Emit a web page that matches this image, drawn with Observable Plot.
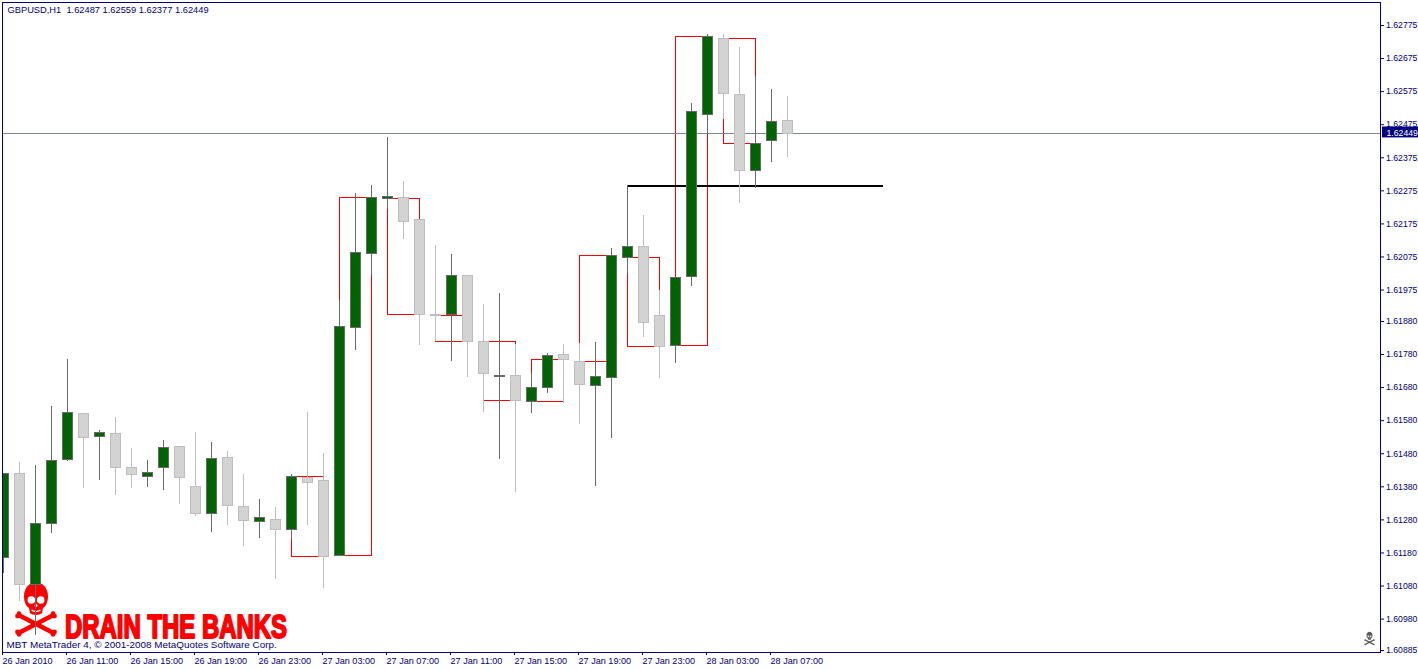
<!DOCTYPE html>
<html>
<head>
<meta charset="utf-8">
<script src="https://cdn.jsdelivr.net/npm/d3@7"></script>
<script src="https://cdn.jsdelivr.net/npm/@observablehq/plot@0.6"></script>
<style>html,body{margin:0;padding:0;background:#fff;overflow:hidden}svg{display:block}</style>
</head>
<body>
<div id="chart"></div>
<script>
const opens = [1.61165,1.61421,1.61085,1.61270,1.61463,1.61602,1.61532,1.61542,1.61439,1.61412,
1.61439,1.61503,1.61382,1.61300,1.61469,1.61321,1.61276,1.61282,1.61252,1.61409,
1.61400,1.61173,1.61862,1.62086,1.62252,1.62255,1.62189,1.61902,1.61902,1.62020,
1.61820,1.61714,1.61717,1.61639,1.61681,1.61781,1.61760,1.61687,1.61711,1.62074,
1.62107,1.61899,1.61808,1.62017,1.62507,1.62736,1.62567,1.62337,1.62428,1.62487];
const highs = [1.61421,1.61454,1.61443,1.61624,1.61764,1.61602,1.61549,1.61590,1.61497,1.61461,
1.61519,1.61503,1.61543,1.61513,1.61487,1.61416,1.61343,1.61316,1.61416,1.61606,
1.61482,1.61942,1.62268,1.62290,1.62435,1.62302,1.62189,1.62111,1.62084,1.62020,
1.61930,1.61966,1.61809,1.61724,1.61782,1.61809,1.61813,1.61815,1.62101,1.62291,
1.62199,1.61975,1.62014,1.62540,1.62748,1.62749,1.62709,1.62620,1.62580,1.62559];
const lows = [1.61119,1.61033,1.60930,1.61238,1.61456,1.61374,1.61399,1.61353,1.61374,1.61377,
1.61368,1.61326,1.61290,1.61241,1.61262,1.61199,1.61223,1.61099,1.61222,1.61262,
1.61073,1.61173,1.61793,1.62018,1.62219,1.62127,1.61807,1.61820,1.61758,1.61710,
1.61604,1.61464,1.61362,1.61601,1.61662,1.61631,1.61568,1.61380,1.61526,1.62021,
1.61831,1.61707,1.61752,1.61985,1.62449,1.62492,1.62236,1.62282,1.62360,1.62377];
const closes = [1.61421,1.61085,1.61270,1.61460,1.61605,1.61530,1.61545,1.61439,1.61418,1.61424,
1.61500,1.61409,1.61300,1.61466,1.61324,1.61279,1.61288,1.61252,1.61412,1.61394,
1.61170,1.61865,1.62089,1.62255,1.62258,1.62183,1.61902,1.61899,1.62020,1.61820,
1.61723,1.61717,1.61642,1.61681,1.61778,1.61764,1.61690,1.61714,1.62080,1.62107,
1.61878,1.61805,1.62014,1.62516,1.62742,1.62570,1.62337,1.62419,1.62485,1.62449];

const boxStarts = [18,21,24,27,30,33,36,39,42,45];
const boxEnds   = [20,23,26,29,32,35,38,41,44,47];
const boxTops   = [1.61412,1.62255,1.62252,1.61899,1.61820,1.61766,1.62080,1.62074,1.62742,1.62736];
const boxBottoms= [1.61170,1.61173,1.61902,1.61820,1.61642,1.61639,1.61760,1.61805,1.61808,1.62419];

const levelPrice = 1.62291;
const levelStart = 39;
const levelEnd = 55;
const lastPrice = 1.62449;

const yTicks = [1.62775,1.62675,1.62575,1.62475,1.62375,1.62275,1.62175,1.62075,1.61975,
1.61880,1.61780,1.61680,1.61580,1.61480,1.61380,1.61280,1.61180,1.61080,1.60980,1.60885];
const xTickBars = [0,4,8,12,16,20,24,28,32,36,40,44,48];
const xTickLabels = ["26 Jan 2010","26 Jan 11:00","26 Jan 15:00","26 Jan 19:00","26 Jan 23:00",
"27 Jan 03:00","27 Jan 07:00","27 Jan 11:00","27 Jan 15:00","27 Jan 19:00","27 Jan 23:00",
"28 Jan 03:00","28 Jan 07:00"];

const HOUR = 3600000;
const T0 = Date.UTC(2010,0,26,7);
const t = h => new Date(T0 + h*HOUR);
const HALF = 5/16;

const candles = opens.map((o,i)=>({i,o,h:highs[i],l:lows[i],c:closes[i],up:closes[i]>=o}));
candles[31].up = true;
const ups = candles.filter(d=>d.up), downs = candles.filter(d=>!d.up);
const boxes = boxStarts.map((s,i)=>({s,e:boxEnds[i],top:boxTops[i],bot:boxBottoms[i]}));

const NAVY = "#000080";
const FONT = "'Liberation Sans', Arial, sans-serif";
const CRISP = "crispEdges";

const wicks = (data,color)=>Plot.ruleX(data,{x:d=>t(d.i),y1:"l",y2:"h",stroke:color,strokeWidth:1,clip:true,shapeRendering:CRISP});
const bodies = (data,fill,stroke)=>Plot.rect(data,{
  x1:d=>t(d.i-HALF),x2:d=>t(d.i+HALF),
  y1:d=>Math.min(d.o,d.c),y2:d=>Math.max(d.o,d.c),
  fill,stroke,strokeWidth:1,inset:0,dx:0.5,dy:0.5,clip:true,shapeRendering:CRISP});

// skull-and-crossbones logo (decoration, not data)
function logo(color,hole,cx,cy,k){
  return ()=>{
    const g=d3.create("svg:g").attr("transform",`translate(${cx},${cy}) scale(${k})`);
    const bones=[[-16.5,6.5,16.5,23.5],[-16.5,23.5,16.5,6.5]];
    for(const [a,b,c,e] of bones){
      g.append("line").attr("x1",a).attr("y1",b).attr("x2",c).attr("y2",e).attr("stroke",color).attr("stroke-width",4.5);
      for(const [px,py] of [[a,b],[c,e]]){
        const sy=py<15?-1:1, sx=px<0?-1:1;
        g.append("circle").attr("cx",px+sx*0.5).attr("cy",py+sy*1.8).attr("r",2.4).attr("fill",color);
        g.append("circle").attr("cx",px+sx*2).attr("cy",py-sy*0.6).attr("r",2.4).attr("fill",color);
      }
    }
    g.append("path").attr("fill",color)
      .attr("d","M-12,-13 C-12,-21 -6,-27 0,-27 C6,-27 12,-21 12,-13 C12,-7 10,-3 7,-1 L6,4 C4,6.5 -4,6.5 -6,4 L-7,-1 C-10,-3 -12,-7 -12,-13Z");
    for(const sx of [-1,1]) g.append("circle").attr("cx",sx*4.7).attr("cy",-9).attr("r",3.8).attr("fill",hole);
    g.append("circle").attr("cx",0).attr("cy",-3.5).attr("r",1.4).attr("fill",hole);
    g.append("path").attr("d","M-4.5,1 Q0,4 4.5,1").attr("fill","none").attr("stroke",hole).attr("stroke-width",1.1);
    return g.node();
  };
}

const plot = Plot.plot({
  width:1418,height:669,
  marginTop:2,marginBottom:17,marginLeft:2,marginRight:38,
  style:{background:"#fff",fontFamily:FONT,fontSize:"9px"},
  x:{type:"utc",domain:[t(-1/16),t(86.0625)],axis:null},
  y:{domain:[1.60879,1.628445],axis:null},
  marks:[
    logo("#ff0000","#fff",36,609,1),
    logo("#5a5a5a","#d8d8d8",1369.5,638.5,0.25),
    Plot.text(["DRAIN THE BANKS"],{frameAnchor:"bottom-left",dx:62.5,dy:-25,text:d=>d,fill:"#ff0000",stroke:"#ff0000",
      strokeWidth:2,fontSize:33,fontWeight:"bold",fontFamily:"'Liberation Sans Narrow','Liberation Sans'",
      lineAnchor:"middle",textAnchor:"start"}),
    Plot.rect(boxes,{x1:d=>t(d.s),x2:d=>t(d.e),y1:"bot",y2:"top",fill:"none",stroke:"#ff0000",strokeWidth:1,dx:0.5,dy:0.5,shapeRendering:CRISP}),
    Plot.ruleY([lastPrice],{stroke:"#778899",strokeWidth:1,shapeRendering:CRISP}),
    Plot.ruleY([levelPrice],{x1:t(levelStart),x2:t(levelEnd),stroke:"#000",strokeWidth:2,shapeRendering:CRISP}),
    wicks(downs,"#bebebe"),
    wicks(ups,"#696969"),
    bodies(downs,"#d3d3d3","#bebebe"),
    bodies(ups,"#006400","#696969"),
    Plot.frame({stroke:NAVY,strokeWidth:1}),
    Plot.axisY({anchor:"right",ticks:yTicks,tickFormat:d3.format(".5f"),tickSize:3,tickPadding:2.5,
      color:NAVY,fontSize:8.7,label:null}),
    Plot.axisX({anchor:"bottom",ticks:xTickBars.map(t),tickFormat:(d,i)=>xTickLabels[i],tickSize:3,tickPadding:2,
      textAnchor:"start",dx:-1,color:NAVY,fontSize:9.1,label:null}),
    Plot.rect([lastPrice],{x1:t(86.1875),x2:t(88.4375),y1:()=>1.62435,y2:()=>1.62468,fill:NAVY,clip:false}),
    Plot.text([lastPrice],{frameAnchor:"right",y:d=>d,dx:6,text:d3.format(".5f"),fill:"#fff",fontSize:8.7,textAnchor:"start",lineAnchor:"middle"}),
    Plot.text(["GBPUSD,H1  1.62487 1.62559 1.62377 1.62449"],{frameAnchor:"top-left",dx:5,dy:8,text:d=>d,fill:NAVY,fontSize:9.3,
      lineAnchor:"middle",textAnchor:"start"}),
    Plot.text(["MBT MetaTrader 4, © 2001-2008 MetaQuotes Software Corp."],{frameAnchor:"bottom-left",dx:4,dy:-8,text:d=>d,fill:NAVY,fontSize:9.9,
      lineAnchor:"middle",textAnchor:"start"})
  ]
});
d3.select(plot).selectAll("text").each(function(){
  if(this.textContent==="DRAIN THE BANKS") d3.select(this).attr("textLength",222).attr("lengthAdjust","spacingAndGlyphs");
});
document.getElementById("chart").appendChild(plot);
</script>
</body>
</html>
